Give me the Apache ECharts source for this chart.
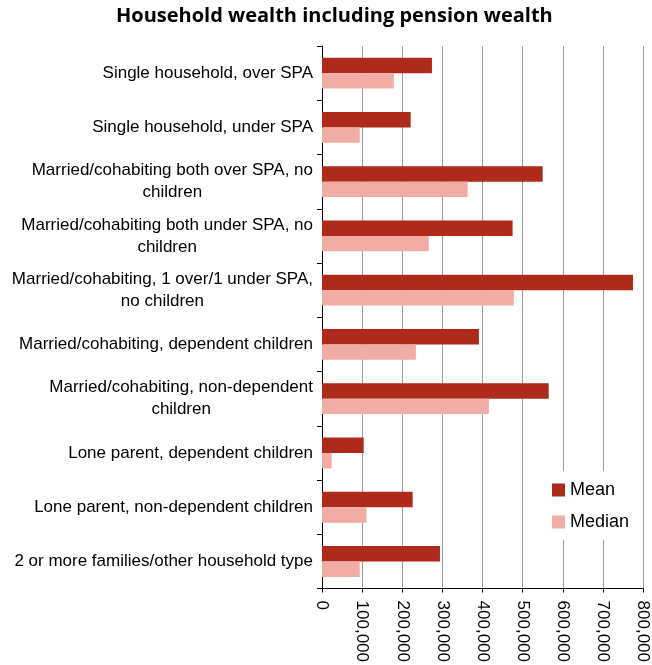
<!DOCTYPE html>
<html>
<head>
<meta charset="utf-8">
<script src="https://cdn.jsdelivr.net/npm/echarts@6/dist/echarts.min.js"></script>
<style>
  html, body { margin: 0; padding: 0; background: #fff; }
  #chart { width: 652px; height: 665px; }
</style>
</head>
<body>
<div id="chart"></div>
<script>
// Household types (top to bottom)
const categories = [
  'Single household, over SPA',
  'Single household, under SPA',
  'Married/cohabiting both over SPA, no\nchildren',
  'Married/cohabiting both under SPA, no\nchildren',
  'Married/cohabiting, 1 over/1 under SPA,\nno children',
  'Married/cohabiting, dependent children',
  'Married/cohabiting, non-dependent\nchildren',
  'Lone parent, dependent children',
  'Lone parent, non-dependent children',
  '2 or more families/other household type'
];

// Wealth including pension wealth (£)
const meanWealth = [274000, 221000, 550000, 475000, 775000, 391000, 565000, 104000, 226000, 294000];
const medianWealth = [179000, 94000, 363000, 266000, 478000, 234000, 416000, 24000, 111000, 94000];

const seriesNames = ['Mean', 'Median'];
const chartTitle = 'Household wealth including pension wealth';

function withCommas(v) {
  return String(v).replace(/\B(?=(\d{3})+(?!\d))/g, ',');
}

const chart = echarts.init(document.getElementById('chart'), null, { renderer: 'canvas' });

const labelFont = 'Liberation Sans, Arial, sans-serif';

chart.setOption({
  animation: false,
  backgroundColor: '#fff',
  title: {
    text: chartTitle,
    left: 116,
    top: 6,
    padding: 0,
    textStyle: {
      fontFamily: 'Open Sans, sans-serif',
      fontWeight: 'bold',
      fontSize: 20,
      color: '#000'
    }
  },
  legend: {
    orient: 'vertical',
    left: 543,
    top: 471,
    padding: [10, 8, 9, 9],
    backgroundColor: '#fff',
    itemWidth: 13,
    itemHeight: 13,
    itemGap: 14,
    icon: 'rect',
    data: seriesNames,
    textStyle: {
      fontFamily: labelFont,
      fontSize: 18,
      color: '#000'
    }
  },
  grid: {
    left: 322,
    right: 9,
    top: 46,
    bottom: 75,
    containLabel: false
  },
  xAxis: {
    type: 'value',
    min: 0,
    max: 800000,
    interval: 100000,
    axisLine: { show: true, lineStyle: { color: '#000', width: 1 } },
    axisTick: { show: true, length: 4, lineStyle: { color: '#000' } },
    splitLine: { show: true, lineStyle: { color: '#9c9c9c', width: 1 } },
    axisLabel: {
      rotate: -90,
      margin: 12,
      fontFamily: labelFont,
      fontSize: 17,
      color: '#000',
      formatter: withCommas
    }
  },
  yAxis: {
    type: 'category',
    inverse: true,
    data: categories,
    axisLine: { show: true, lineStyle: { color: '#000', width: 1 } },
    axisTick: { show: true, length: 5, lineStyle: { color: '#000' } },
    splitLine: { show: false },
    axisLabel: {
      margin: 9,
      fontFamily: labelFont,
      fontSize: 17,
      lineHeight: 22,
      color: '#000',
      formatter: function (value) {
        return value.split('\n').map(function (line) { return '{c|' + line + '}'; }).join('\n');
      },
      rich: {
        c: {
          align: 'center',
          fontFamily: labelFont,
          fontSize: 17,
          lineHeight: 22,
          color: '#000'
        }
      }
    }
  },
  series: [
    {
      name: seriesNames[0],
      type: 'bar',
      data: meanWealth,
      barGap: '0%',
      barCategoryGap: '43%',
      itemStyle: { color: '#ae2a1b' }
    },
    {
      name: seriesNames[1],
      type: 'bar',
      data: medianWealth,
      barGap: '0%',
      barCategoryGap: '43%',
      itemStyle: { color: '#f1ada5' }
    }
  ]
});
</script>
</body>
</html>
